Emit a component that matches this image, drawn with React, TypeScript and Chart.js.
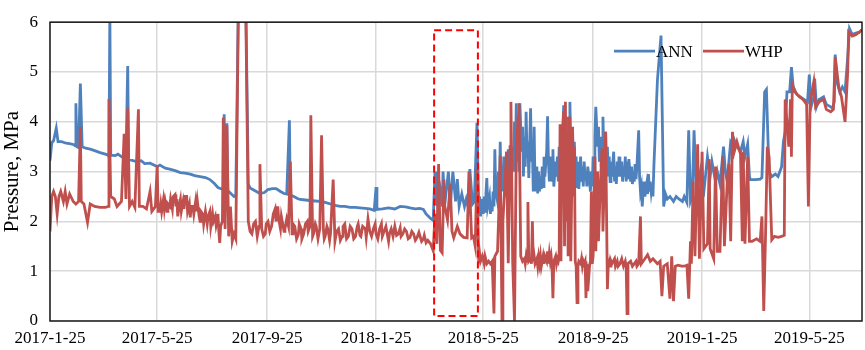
import React, { useEffect, useRef } from "react";
import { Chart, registerables } from "chart.js";

Chart.register(...registerables);

// x values are days since 2017-1-25
const tickDays = [0, 120, 243, 365, 485, 608, 730, 850];
const tickLabels = ["2017-1-25", "2017-5-25", "2017-9-25", "2018-1-25", "2018-5-25", "2018-9-25", "2019-1-25", "2019-5-25"];
const lastDay = 909;
const yTicks = [0, 1, 2, 3, 4, 5, 6];
const seriesNames = ["ANN", "WHP"];
const boxDays = [430, 479];
const boxValues = [0.1, 5.84];

const annDays = [
  0, 2, 4, 7, 9, 13, 18, 22, 27, 28, 29, 30, 32, 34, 36, 40, 45, 50, 56, 62, 65, 66, 67, 68, 73, 76, 80, 83, 85, 87, 88, 93, 97, 102, 106, 112, 118, 120,
  123, 129, 134, 140, 146, 151, 157, 162, 168, 174, 179, 184, 188, 192, 194, 195, 196, 198, 199, 203, 206, 208, 212, 218, 222, 224, 227, 231, 235, 240,
  244, 249, 253, 258, 262, 265, 268, 269, 273, 277, 280, 286, 291, 297, 302, 308, 314, 319, 325, 330, 336, 342, 347, 353, 358, 363, 365, 366, 372, 379,
  386, 392, 398, 403, 409, 414, 418, 421, 426, 429, 431, 432, 435, 437, 439, 440, 442, 446, 448, 451, 454, 456, 458, 461, 464, 466, 468, 470, 473, 475,
  478, 480, 481, 482, 484, 485, 486, 487, 488, 489, 490, 492, 493, 494, 495, 496, 497, 498, 499, 501, 502, 503, 504, 505, 506, 507, 508, 510, 511, 512,
  513, 514, 515, 516, 517, 519, 520, 521, 522, 523, 524, 525, 526, 528, 529, 530, 531, 532, 533, 534, 535, 536, 538, 539, 540, 541, 542, 543, 545, 546,
  547, 548, 549, 550, 551, 552, 553, 554, 556, 557, 558, 559, 560, 561, 562, 563, 564, 566, 567, 568, 569, 570, 571, 572, 573, 575, 576, 577, 578, 579,
  580, 581, 582, 583, 585, 586, 587, 588, 589, 590, 591, 592, 594, 595, 596, 597, 598, 599, 600, 601, 602, 604, 605, 606, 607, 608, 609, 610, 611, 613,
  614, 615, 616, 617, 618, 619, 620, 622, 623, 624, 625, 626, 627, 628, 629, 631, 632, 633, 634, 635, 636, 637, 638, 640, 641, 642, 643, 644, 645, 646,
  647, 648, 650, 651, 652, 653, 654, 655, 656, 657, 659, 660, 661, 662, 663, 664, 665, 666, 668, 669, 670, 671, 672, 673, 674, 675, 676,
  680, 684, 687, 689, 691, 694, 698, 701, 704, 708, 710, 713, 715, 717, 719, 721, 724, 726, 728, 730, 732, 736, 739, 741, 745, 747, 750, 754, 756, 758,
  762, 764, 766, 769, 773, 776, 778, 781, 783, 784, 790, 795, 797, 800, 802, 804, 805, 808, 812, 815, 819, 821, 823, 825, 828, 830, 832, 836, 840, 844,
  848, 850, 852, 855, 856, 858, 861, 866, 869, 874, 876, 878, 879, 881, 884, 887, 890, 893, 895, 898, 902, 906, 909,
];
const annValues = [
  3.22, 3.58, 3.62, 3.87, 3.6, 3.6, 3.57, 3.56, 3.54, 3.52, 4.37, 3.5, 3.48, 4.77, 3.5, 3.47, 3.45, 3.42, 3.38, 3.35, 3.33, 3.3, 6.2, 3.33, 3.32, 3.35, 3.3, 3.27, 3.25, 5.12, 3.25, 3.22, 3.2, 3.22, 3.16, 3.17, 3.12, 3.1,
  3.13, 3.07, 3.05, 3.02, 2.98, 2.97, 2.95, 2.92, 2.9, 2.88, 2.84, 2.76, 2.68, 2.65, 2.64, 4.15, 2.7, 3.97, 2.62, 2.55, 2.5, 2.52, 8, 8, 2.75, 2.67, 2.64, 2.6, 2.56, 2.58,
  2.64, 2.66, 2.66, 2.6, 2.56, 2.55, 4.03, 2.53, 2.5, 2.46, 2.44, 2.43, 2.42, 2.41, 2.4, 2.38, 2.35, 2.32, 2.3, 2.3, 2.28, 2.28, 2.27, 2.26, 2.25, 2.22, 2.69, 2.24, 2.25, 2.27,
  2.25, 2.3, 2.29, 2.27, 2.25, 2.26, 2.24, 2.15, 2.06, 2.02, 3.0, 2.35, 2.3, 2.6, 2.3, 3.0, 2.35, 3.0, 2.3, 3.0, 2.4, 2.85, 2.3, 2.55, 2.3, 2.45, 2.3, 3.05, 2.35, 2.4,
  3.98, 2.3, 2.5, 2.1, 2.45, 2.15, 2.5, 2.2, 2.55, 2.87, 2.3, 2.5, 2.15, 2.4, 2.2, 2.6, 2.3, 3.45, 2.6, 2.4, 3.0, 2.45, 3.6, 2.7, 3.1, 2.6, 3.3, 2.5, 3.1, 2.6,
  3.45, 2.7, 3.2, 2.7, 3.5, 3.0, 4.0, 3.3, 4.37, 3.2, 3.9, 3.0, 4.37, 3.4, 3.9, 2.9, 3.7, 3.1, 4.2, 3.3, 3.6, 2.87, 4.27, 3.2, 3.5, 2.6, 3.9, 2.6, 3.1, 2.56,
  3.0, 2.6, 2.9, 2.65, 3.1, 2.7, 3.3, 2.9, 3.4, 4.11, 3.2, 2.8, 3.3, 2.8, 3.0, 3.45, 2.7, 3.2, 2.9, 3.3, 2.8, 3.5, 3.0, 3.8, 3.1, 4.33, 3.4, 3.9, 3.0, 4.1,
  3.2, 3.7, 4.4, 3.4, 3.8, 3.0, 3.6, 2.9, 3.3, 2.7, 3.2, 2.65, 3.3, 2.8, 3.1, 2.7, 3.2, 2.85, 3.0, 2.7, 3.1, 2.8, 2.6, 3.0, 2.7, 3.3, 2.8, 3.7, 4.3, 3.5,
  3.9, 3.2, 3.7, 3.1, 3.5, 4.1, 3.3, 3.8, 3.1, 3.5, 2.9, 3.3, 2.8, 3.2, 2.9, 3.4, 2.8, 3.1, 2.75, 3.2, 2.9, 3.3, 2.9, 3.2, 2.8, 3.1, 2.9, 3.3, 2.8, 3.2,
  2.85, 3.25, 2.8, 3.1, 2.75, 3.0, 2.8, 3.15, 2.85, 3.1, 3.83, 2.9, 2.6, 2.7, 2.3, 2.6, 2.8, 2.5, 2.75, 2.55, 2.95, 2.6, 2.8, 2.6, 2.75, 2.5, 3.1,
  4.84, 5.73, 2.3, 2.55, 2.45, 2.5, 2.4, 2.5, 2.45, 2.4, 2.5, 2.38, 3.83, 2.4, 2.5, 3.83, 2.3, 2.8, 3.0, 2.7, 2.6, 3.3, 2.9, 3.2, 2.8, 3.0, 2.75, 3.5, 3.0, 2.8,
  3.6, 3.55, 3.64, 3.5, 3.4, 3.6, 3.3, 3.55, 2.9, 2.84, 2.84, 2.85, 2.88, 4.6, 4.65, 3.5, 3.0, 2.9, 2.95, 2.9, 3.1, 3.6, 3.8, 4.6, 4.6, 5.1, 4.7, 4.55, 4.5, 4.45,
  4.4, 4.95, 4.3, 4.5, 4.87, 4.3, 4.45, 4.5, 4.35, 4.3, 4.27, 4.4, 5.35, 4.8, 4.6, 4.7, 4.6, 5.3, 5.87, 5.75, 5.78, 5.8, 5.85,
];

const whpDays = [
  0, 2, 4, 6, 8, 10, 12, 15, 17, 19, 22, 26, 29, 32, 34, 35, 38, 42, 45, 50, 56, 62, 65, 66, 68, 72, 75, 80, 83, 85, 87, 89, 92, 95, 99, 100, 104, 108, 112, 114, 118, 120, 121,
  123, 124, 125, 127, 128, 129, 131, 132, 134, 135, 137, 138, 140, 141, 142, 143, 145, 146, 147, 149, 150, 151, 153, 154, 156, 157, 158, 160, 161, 163,
  164, 165, 167, 168, 169, 171, 172, 174, 176, 177, 179, 180, 182, 183, 185, 186, 187, 188, 189, 190, 191, 193,
  194, 196, 198, 200, 202, 204, 206, 208, 212, 218,
  222, 224, 226, 228, 230, 232, 234, 235, 237, 239, 241, 242, 244, 246, 248, 250, 252, 253, 255, 256, 258, 259, 260, 262, 263, 265, 267, 269, 271, 272,
  274, 276, 278, 279, 281, 282, 284, 286, 288, 289, 291, 292, 294, 295, 297, 298, 300, 302, 304, 306, 307, 308, 310, 311, 313, 314, 317, 319, 321, 323,
  325, 327, 328, 330, 332, 334, 336, 338, 340, 342, 344, 345, 347, 348, 350, 353, 354, 356, 358, 360, 362, 364, 365, 367, 369, 371, 372, 374, 376, 379,
  380, 382, 384, 386, 388, 390, 392, 393, 395, 397, 399, 401, 403, 405, 407, 409, 411, 413, 414, 416, 418, 419, 421, 423, 426,
  429, 431, 433, 435, 437, 439, 441, 442, 445, 448, 450, 452, 456, 459, 463, 467, 469, 472, 474, 476, 478,
  480, 481, 482, 484, 486, 487, 489, 491, 493, 495, 497, 498, 501, 503, 504, 506, 507, 510, 511, 513, 515, 516, 518, 520, 522, 524, 525, 527, 529, 531,
  532, 533, 534, 535, 536, 538, 539, 540, 541, 542, 543, 545, 546, 547, 548, 549, 550, 551, 552, 553, 554, 556, 557, 558, 559, 560, 561, 562, 563, 564,
  566, 567, 568, 569, 570, 571, 572, 573, 575, 576, 577, 578, 579, 580, 581, 582, 583, 585, 586, 587, 588, 589, 590, 591, 592, 594, 595, 596, 597, 598,
  599, 600, 601, 602, 604, 605, 606, 607, 608, 610, 611, 613, 614, 616, 618, 619, 622, 624, 625, 626, 627, 628, 629, 632, 633, 635, 636, 638, 640, 642,
  644, 645, 646, 647, 650, 652, 654, 656, 657, 659, 661, 662, 664, 666, 669,
  672, 675, 680, 683, 685, 687, 691, 694, 696, 698, 700, 703, 707, 710, 713, 715, 717, 718, 720, 722, 725, 727, 730, 732, 736, 738, 739, 743,
  745, 747, 750, 753, 755, 758, 760, 762, 764, 766, 769, 773, 775, 776, 778, 781, 783, 786, 791, 795, 797, 799, 801, 803, 805, 808, 811, 815, 819, 822, 823, 825,
  827, 829, 830, 831, 834, 839, 843, 847, 849, 851, 855, 857, 861, 866, 869, 874, 877, 879, 883, 886, 890, 893, 894, 898, 902, 906, 909,
];
const whpValues = [
  1.8, 2.5, 2.6, 2.5, 2.15, 2.5, 2.6, 2.4, 2.6, 2.35, 2.55, 2.4, 2.35, 2.4, 3.9, 2.4, 2.35, 1.98, 2.35, 2.3, 2.28, 2.28, 2.3, 4.46, 2.5, 2.45, 2.3, 2.4, 3.76, 2.45, 4.27, 2.3, 2.4, 2.28, 4.25, 2.3, 2.3, 2.25, 2.6, 2.2, 2.3, 3.13, 2.2,
  2.2, 2.35, 2.2, 2.44, 2.25, 2.4, 2.2, 2.35, 2.3, 2.45, 2.25, 2.5, 2.54, 2.3, 2.45, 2.1, 2.35, 2.44, 2.2, 2.4, 2.25, 2.5, 2.5, 2.2, 2.35, 2.08, 2.3, 2.3, 2.15, 2.4,
  2.2, 2.4, 2.1, 2.0, 2.2, 2.15, 1.95, 2.2, 1.95, 2.1, 2.2, 1.9, 2.15, 2.0, 2.1, 1.92, 2.0, 2.15, 1.8, 1.57, 1.9, 2.0,
  4.08, 1.85, 3.93, 1.7, 2.3, 1.6, 1.75, 1.65, 8, 8,
  2.0, 1.8, 1.75, 1.95, 2.0, 1.7, 1.9, 3.15, 1.85, 1.7, 1.75, 1.95, 2.0, 1.8, 1.9, 2.15, 2.25, 2.0, 2.3, 2.05, 1.85, 2.1, 2.0, 1.8, 1.85, 2.05, 1.9, 3.2, 1.75, 1.95,
  1.9, 1.65, 1.74, 1.95, 1.85, 1.65, 1.75, 1.95, 2.0, 1.8, 1.9, 4.13, 1.7, 1.75, 1.95, 1.9, 1.65, 1.85, 3.73, 1.85, 1.65, 1.7, 1.9, 1.85, 1.62, 1.75, 2.84, 1.6, 1.8, 1.85,
  1.62, 1.7, 1.9, 1.95, 1.65, 1.7, 1.9, 1.85, 1.65, 1.7, 1.9, 1.95, 1.72, 1.7, 1.9, 1.85, 1.68, 2.05, 1.8, 1.7, 1.85, 1.95, 1.75, 1.65, 1.85, 1.95, 1.7, 1.8, 1.9, 1.6,
  1.75, 1.85, 1.7, 1.9, 1.72, 1.75, 1.87, 1.7, 1.75, 1.85, 1.8, 1.65, 1.68, 1.8, 1.75, 1.62, 1.68, 1.78, 1.72, 1.6, 1.65, 1.72, 1.57, 1.62, 1.55,
  1.41, 2.15, 1.55, 3.15, 1.42, 1.37, 2.84, 2.3, 2.03, 2.75, 1.8, 1.67, 1.9, 1.75, 1.68, 1.67, 3.0, 1.67, 1.7, 1.5, 3.05,
  1.16, 1.35, 1.2, 1.3, 1.15, 1.3, 1.15, 1.2, 1.15, 1.2, 0.15, 1.3, 1.4, 2.5, 3.32, 0.0, 2.0, 3.0, 3.4, 1.16, 3.5, 4.4, 1.16, 0.0, 3.5, 4.1, 4.37, 1.3, 1.2, 1.25,
  1.15, 1.3, 1.2, 2.39, 1.2, 1.25, 1.15, 2.0, 1.2, 1.3, 1.15, 1.25, 1.1, 1.28, 1.15, 1.3, 1.1, 1.2, 1.3, 1.15, 1.3, 1.2, 1.4, 1.15, 1.35, 1.2, 1.3, 1.1, 0.46, 1.2,
  1.3, 1.15, 1.25, 1.2, 1.3, 3.95, 1.2, 3.5, 4.2, 1.5, 4.4, 2.0, 3.8, 1.3, 4.1, 3.3, 1.2, 3.9, 2.5, 3.5, 1.2, 1.1, 0.37, 1.1, 1.2, 1.15, 1.25, 1.1, 1.2, 1.15,
  1.2, 0.46, 1.15, 0.6, 1.1, 1.2, 2.6, 1.15, 1.3, 3.3, 1.4, 3.0, 1.6, 2.7, 3.47, 1.8, 3.8, 0.64, 1.15, 1.2, 1.1, 1.2, 1.15, 1.25, 1.1, 1.2, 1.1, 1.15, 1.25, 1.1,
  1.2, 1.1, 0.15, 1.15, 1.2, 1.1, 1.15, 1.2, 1.1, 1.15, 2.1, 1.15, 1.2, 1.25, 1.33,
  1.2, 1.25, 1.15, 1.2, 0.5, 1.1, 1.15, 0.45, 1.3, 0.4, 1.1, 1.12, 1.1, 1.1, 1.12, 0.45, 1.6, 1.15, 2.8, 1.3, 3.55, 1.25, 3.4, 1.45, 1.55, 3.25, 1.45, 1.25,
  3.1, 1.4, 1.4, 3.3, 1.5, 2.75, 3.15, 1.6, 3.8, 3.4, 3.6, 3.35, 1.6, 3.4, 1.55, 3.3, 1.6, 1.6, 1.65, 1.6, 2.1, 0.2, 1.7, 3.5, 3.3, 1.63, 1.7, 1.68, 1.7, 1.72, 4.45, 4.0,
  3.5, 4.45, 3.3, 4.75, 4.6, 4.5, 4.45, 4.35, 2.3, 4.4, 4.8, 4.3, 4.4, 4.45, 4.25, 4.2, 4.25, 5.3, 4.7, 4.5, 4.0, 5.0, 5.8, 5.72, 5.75, 5.8, 5.85,
];

const FONT = "'Liberation Serif', 'Times New Roman', serif";
const BLUE = "#4F81BD";
const RED = "#C0504D";

function toPoints(days: number[], values: number[]) {
  const n = Math.min(days.length, values.length);
  const pts: { x: number; y: number }[] = [];
  for (let i = 0; i < n; i++) pts.push({ x: days[i], y: values[i] });
  return pts;
}

const overlay = {
  id: "overlay",
  afterDatasetsDraw(chart: any) {
    const { ctx, chartArea: a, scales } = chart;
    const xs = scales.x;
    const ys = scales.y;
    ctx.save();
    // dashed highlight box
    const x0 = xs.getPixelForValue(boxDays[0]);
    const x1 = xs.getPixelForValue(boxDays[1]);
    const y0 = ys.getPixelForValue(boxValues[1]);
    const y1 = ys.getPixelForValue(boxValues[0]);
    ctx.strokeStyle = "#FF0000";
    ctx.lineWidth = 2;
    ctx.setLineDash([7, 4]);
    ctx.strokeRect(x0, y0, x1 - x0, y1 - y0);
    ctx.setLineDash([]);
    // plot frame
    ctx.strokeStyle = "#1a1a1a";
    ctx.lineWidth = 1.5;
    ctx.strokeRect(a.left, a.top, a.right - a.left, a.bottom - a.top);
    // legend
    const ly = a.top + 29;
    ctx.lineWidth = 2.8;
    ctx.font = "17px " + FONT;
    ctx.fillStyle = "#000";
    ctx.textBaseline = "middle";
    ctx.textAlign = "left";
    const items = [
      { name: seriesNames[0], color: BLUE, start: a.right - 248 },
      { name: seriesNames[1], color: RED, start: a.right - 159 },
    ];
    items.forEach((it) => {
      ctx.strokeStyle = it.color;
      ctx.beginPath();
      ctx.moveTo(it.start, ly);
      ctx.lineTo(it.start + 41, ly);
      ctx.stroke();
      ctx.fillText(it.name, it.start + 42, ly + 1);
    });
    ctx.restore();
  },
};

export default function App() {
  const ref = useRef<HTMLCanvasElement | null>(null);
  useEffect(() => {
    if (!ref.current) return;
    const chart = new Chart(ref.current, {
      type: "line",
      data: {
        datasets: [
          {
            label: seriesNames[0],
            data: toPoints(annDays, annValues),
            borderColor: BLUE,
            backgroundColor: BLUE,
            borderWidth: 2.8,
            pointRadius: 0,
            tension: 0,
            order: 2,
          },
          {
            label: seriesNames[1],
            data: toPoints(whpDays, whpValues),
            borderColor: RED,
            backgroundColor: RED,
            borderWidth: 2.8,
            pointRadius: 0,
            tension: 0,
            order: 1,
          },
        ],
      },
      options: {
        responsive: false,
        animation: false,
        events: [],
        layout: { padding: { top: 6, right: 3, left: 0, bottom: 0 } },
        plugins: { legend: { display: false }, tooltip: { enabled: false } },
        scales: {
          x: {
            type: "linear",
            min: 0,
            max: lastDay,
            afterBuildTicks: (scale: any) => {
              scale.ticks = tickDays.map((v) => ({ value: v }));
            },
            afterFit: (scale: any) => {
              scale.height = 29;
            },
            ticks: {
              autoSkip: false,
              maxRotation: 0,
              minRotation: 0,
              padding: 7,
              color: "#000",
              font: { family: FONT, size: 17 },
              callback: (v: any) => {
                const i = tickDays.indexOf(Number(v));
                return i >= 0 ? tickLabels[i] : "";
              },
            },
            grid: { color: "#d9d9d9", lineWidth: 1.5, drawTicks: false },
            border: { display: false },
          },
          y: {
            type: "linear",
            min: 0,
            max: 6,
            afterBuildTicks: (scale: any) => {
              scale.ticks = yTicks.map((v) => ({ value: v }));
            },
            afterFit: (scale: any) => {
              scale.width = 50;
            },
            ticks: {
              padding: 12,
              color: "#000",
              font: { family: FONT, size: 17 },
              callback: (v: any) => String(v),
            },
            grid: { color: "#d9d9d9", lineWidth: 1.5, drawTicks: false },
            border: { display: false },
            title: {
              display: true,
              text: "Pressure, MPa",
              color: "#000",
              font: { family: FONT, size: 21 },
              padding: { top: 0, bottom: 0 },
            },
          },
        },
      },
      plugins: [overlay],
    });
    return () => chart.destroy();
  }, []);
  return (
    <div style={{ position: "fixed", left: 0, top: 0, width: 865, height: 350, background: "#fff" }}>
      <canvas ref={ref} width={865} height={350} style={{ width: 865, height: 350 }} />
    </div>
  );
}
